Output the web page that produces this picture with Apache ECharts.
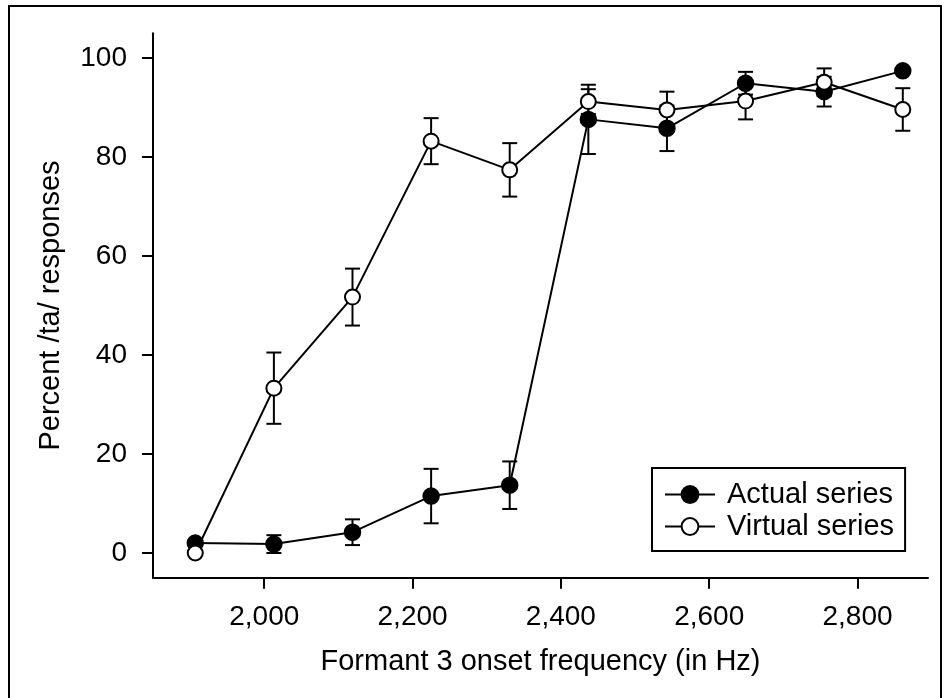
<!DOCTYPE html>
<html>
<head>
<meta charset="utf-8">
<script src="https://cdn.jsdelivr.net/npm/echarts@6/dist/echarts.min.js"></script>
<style>
  html, body { margin: 0; padding: 0; background: #fff; }
  #chart { width: 944px; height: 698px; }
</style>
</head>
<body>
<div id="chart"></div>
<script>
// ---- data ----
const frequencies = [1907, 2013, 2119, 2225, 2331, 2437, 2543, 2649, 2755, 2861];
const actualValues = [2.0, 1.8, 4.2, 11.5, 13.7, 87.6, 85.8, 94.9, 93.2, 97.4];
const actualErrors = [0, 1.8, 2.6, 5.5, 4.8, 7.0, 4.6, 2.3, 3.0, 0];
const virtualValues = [0, 33.3, 51.7, 83.2, 77.4, 91.2, 89.5, 91.3, 95.1, 89.6];
const virtualErrors = [0, 7.2, 5.75, 4.65, 5.4, 2.5, 3.7, 3.7, 2.8, 4.3];
const xTicks = [2000, 2200, 2400, 2600, 2800];
const yTicks = [0, 20, 40, 60, 80, 100];
const seriesNames = ['Actual series', 'Virtual series'];
const xTitle = 'Formant 3 onset frequency (in Hz)';
const yTitle = 'Percent /ta/ responses';

const FONT = '"Liberation Sans", Arial, Helvetica, sans-serif';
const chart = echarts.init(document.getElementById('chart'), null, { renderer: 'canvas' });

function pairs(xs, ys) { return xs.map((x, i) => [x, ys[i]]); }
function errData(xs, ys, es) { return xs.map((x, i) => [x, ys[i], es[i]]); }

function errorRender(params, api) {
  const e = api.value(2);
  if (!e) return null;
  const x = api.value(0), y = api.value(1);
  const hi = api.coord([x, y + e]);
  const lo = api.coord([x, y - e]);
  const hw = 7.5;
  const st = { stroke: '#000', lineWidth: 2 };
  return {
    type: 'group',
    children: [
      { type: 'line', shape: { x1: hi[0], y1: hi[1], x2: lo[0], y2: lo[1] }, style: st },
      { type: 'line', shape: { x1: hi[0] - hw, y1: hi[1], x2: hi[0] + hw, y2: hi[1] }, style: st },
      { type: 'line', shape: { x1: lo[0] - hw, y1: lo[1], x2: lo[0] + hw, y2: lo[1] }, style: st }
    ]
  };
}

const option = {
  backgroundColor: '#fff',
  animation: false,
  graphic: [{
    type: 'rect',
    shape: { x: 9, y: 6, width: 932, height: 720 },
    style: { fill: 'none', stroke: '#000', lineWidth: 2 },
    silent: true
  }],
  grid: { left: 153, right: 16, top: 33.25, bottom: 698 - 577.75, containLabel: false },
  xAxis: {
    type: 'value', min: 1850, max: 2895,
    name: xTitle, nameLocation: 'middle', nameGap: 70,
    nameTextStyle: { fontFamily: FONT, fontSize: 29, color: '#000' },
    axisLine: { show: true, onZero: false, lineStyle: { color: '#000', width: 2 } },
    axisTick: { show: true, inside: false, length: 11, lineStyle: { color: '#000', width: 2 }, customValues: xTicks },
    axisLabel: {
      customValues: xTicks, margin: 26, fontFamily: FONT, fontSize: 28, color: '#000',
      formatter: v => v.toLocaleString('en-US')
    },
    splitLine: { show: false }
  },
  yAxis: {
    type: 'value', min: -5, max: 105,
    name: yTitle, nameLocation: 'middle', nameGap: 88, nameRotate: 90,
    nameTextStyle: { fontFamily: FONT, fontSize: 29, color: '#000' },
    axisLine: { show: true, onZero: false, lineStyle: { color: '#000', width: 2 } },
    axisTick: { show: true, inside: false, length: 11, lineStyle: { color: '#000', width: 2 }, customValues: yTicks },
    axisLabel: { customValues: yTicks, margin: 26, fontFamily: FONT, fontSize: 28, color: '#000' },
    splitLine: { show: false }
  },
  legend: {
    show: true,
    left: 652, top: 468,
    orient: 'vertical',
    data: seriesNames,
    borderColor: '#000', borderWidth: 2, borderRadius: 0,
    padding: [11, 11, 9, 12],
    itemWidth: 50, itemHeight: 21, itemGap: 1,
    textStyle: { fontFamily: FONT, fontSize: 29, color: '#000', lineHeight: 31, padding: [0, 0, 0, 7] },
    selectedMode: false
  },
  series: [
    {
      type: 'custom', name: 'actualErr', renderItem: errorRender,
      data: errData(frequencies, actualValues, actualErrors), z: 1, silent: true
    },
    {
      type: 'custom', name: 'virtualErr', renderItem: errorRender,
      data: errData(frequencies, virtualValues, virtualErrors), z: 1, silent: true
    },
    {
      type: 'line', name: seriesNames[0], data: pairs(frequencies, actualValues),
      symbol: 'circle', symbolSize: 16, showAllSymbol: true,
      lineStyle: { color: '#000', width: 2 },
      itemStyle: { color: '#000', borderColor: '#000', borderWidth: 1.5 },
      z: 3
    },
    {
      type: 'line', name: seriesNames[1], data: pairs(frequencies, virtualValues),
      symbol: 'circle', symbolSize: 15, showAllSymbol: true,
      lineStyle: { color: '#000', width: 2 },
      itemStyle: { color: '#fff', borderColor: '#000', borderWidth: 2 },
      z: 4
    }
  ]
};
chart.setOption(option);
</script>
</body>
</html>
